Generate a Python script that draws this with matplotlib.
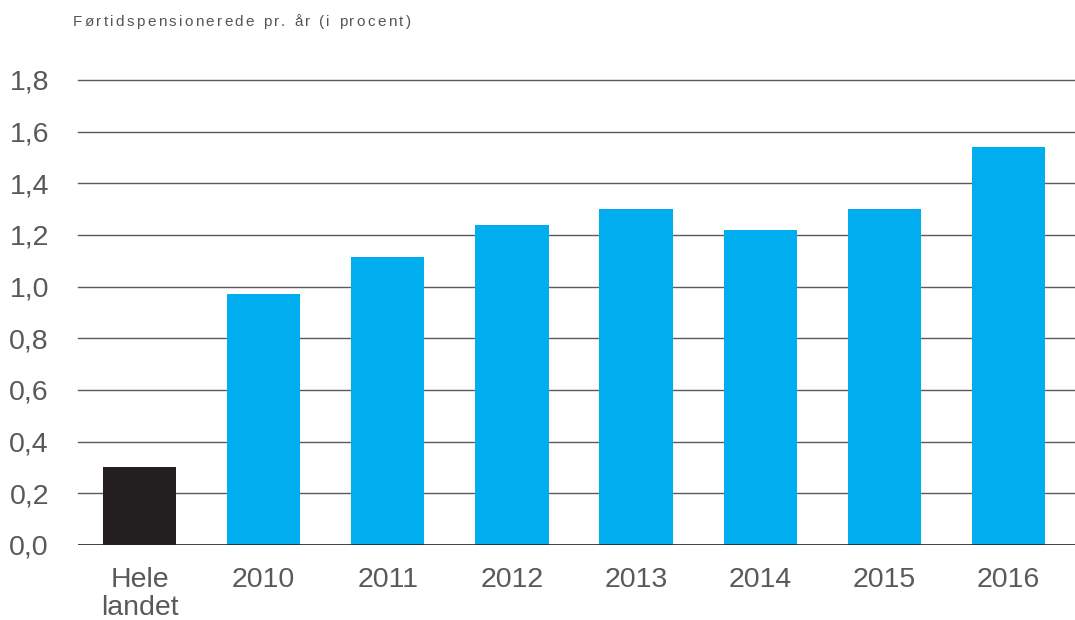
import matplotlib
matplotlib.use("Agg")
import matplotlib.pyplot as plt
from matplotlib.ticker import FuncFormatter

# Data
kategorier = ["Hele\nlandet", "2010", "2011", "2012", "2013", "2014", "2015", "2016"]
vaerdier = [0.30, 0.97, 1.115, 1.24, 1.30, 1.22, 1.30, 1.54]
farver = ["#231f20"] + ["#00adef"] * 7
titel = "Førtidspensionerede pr. år (i procent)"

plt.rcParams["font.family"] = ["Liberation Sans", "DejaVu Sans"]

fig = plt.figure(figsize=(10.75, 6.2), dpi=100)
ax = fig.add_axes([0.0726, 0.121, 0.9274, 0.75])

x = range(len(kategorier))
ax.bar(x, vaerdier, width=0.59, color=farver, zorder=3)

ax.set_ylim(0, 1.8)
ax.set_xlim(-0.495, len(kategorier) - 0.465)
yt = [i * 0.2 for i in range(10)]
ax.set_yticks(yt)
ax.yaxis.set_major_formatter(FuncFormatter(lambda v, p: f"{v:.1f}".replace(".", ",")))
for v in yt[1:]:
    ax.axhline(v, color="#5a5a5a", lw=1.0, zorder=1, clip_on=False)
ax.axhline(0, color="#222222", lw=1.2, zorder=4)

ax.set_xticks(list(x))
ax.set_xticklabels(kategorier, linespacing=1.1)
ax.tick_params(axis="both", length=0, labelsize=20.5, labelcolor="#595959")
ax.tick_params(axis="y", pad=21)
ax.tick_params(axis="x", pad=16)
for s in ax.spines.values():
    s.set_visible(False)

# Titel med ekstra bogstavafstand
fig.canvas.draw()
r = fig.canvas.get_renderer()
xpos = 73 / 1075
for ch in titel:
    t = fig.text(xpos, 1 - 22 / 620, ch, fontsize=11, color="#555555", va="center", ha="left")
    w = t.get_window_extent(renderer=r).width if ch != " " else 4.3
    xpos += (w + 2.3) / 1075

fig.savefig("out.png", dpi=100)
